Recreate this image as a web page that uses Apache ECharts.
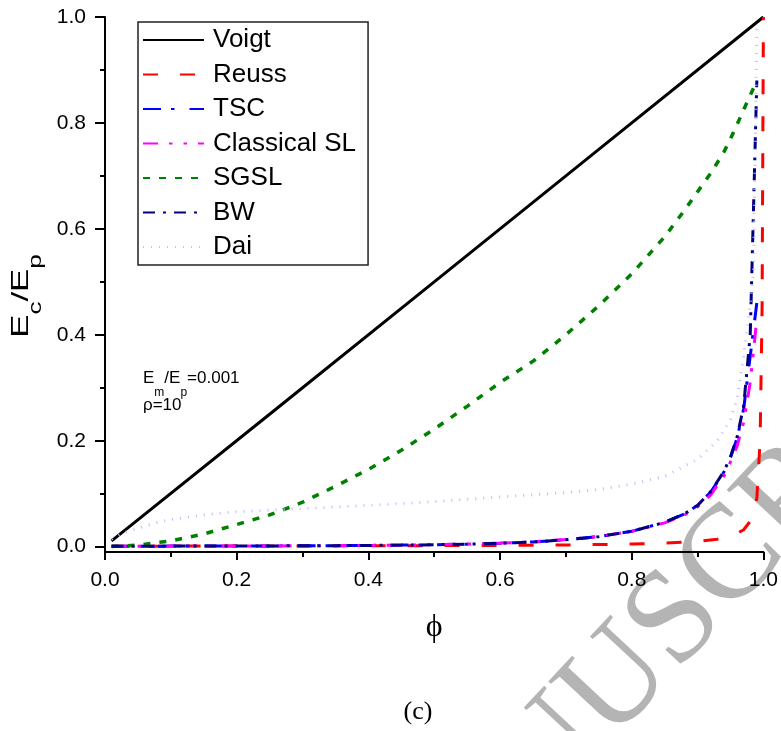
<!DOCTYPE html>
<html>
<head>
<meta charset="utf-8">
<script src="https://cdn.jsdelivr.net/npm/echarts@6/dist/echarts.min.js"></script>
<style>
  html, body { margin: 0; padding: 0; background: #fff; }
  #chart { width: 781px; height: 731px; }
</style>
</head>
<body>
<div id="chart"></div>
<script>
// Composite modulus E_c/E_p versus particle volume fraction phi (E_m/E_p = 0.001, rho = 10)
const seriesNames = ['Voigt', 'Reuss', 'TSC', 'Classical SL', 'SGSL', 'BW', 'Dai'];

const phiVoigt = [0.01, 0.25, 0.5, 0.75, 1.0];
const voigt = [0.011, 0.25, 0.5, 0.75, 1.0];

const phiReuss = [0.01, 0.1, 0.2, 0.3, 0.4, 0.5, 0.6, 0.7, 0.8, 0.85, 0.9, 0.93, 0.95, 0.96, 0.97, 0.98, 0.99, 0.995, 0.998, 1.0];
const reuss = [0.001, 0.0011, 0.0012, 0.0014, 0.0017, 0.002, 0.0025, 0.0033, 0.005, 0.0067, 0.0099, 0.014, 0.0196, 0.025, 0.032, 0.048, 0.091, 0.2, 0.45, 1.0];

const phiGrid = [0.01, 0.05, 0.1, 0.15, 0.2, 0.25, 0.3, 0.35, 0.4, 0.45, 0.5, 0.55, 0.6, 0.65, 0.7, 0.75, 0.8, 0.85, 0.88, 0.9, 0.92, 0.94, 0.95, 0.96, 0.97, 0.98, 0.99];
const tsc = [0.001, 0.001, 0.0011, 0.0012, 0.0013, 0.0015, 0.0017, 0.002, 0.0024, 0.003, 0.0037, 0.0048, 0.0066, 0.009, 0.013, 0.019, 0.029, 0.046, 0.062, 0.078, 0.103, 0.141, 0.168, 0.205, 0.26, 0.36, 0.46];
const classicalSL = [0.001, 0.001, 0.0011, 0.0012, 0.0013, 0.0015, 0.0017, 0.002, 0.0024, 0.003, 0.0037, 0.0049, 0.0068, 0.0093, 0.0135, 0.0195, 0.029, 0.045, 0.06, 0.075, 0.098, 0.133, 0.16, 0.19, 0.235, 0.31, 0.43];
const sgsl = [0.0005, 0.003, 0.011, 0.024, 0.042, 0.06, 0.084, 0.114, 0.146, 0.182, 0.222, 0.265, 0.31, 0.35, 0.4, 0.455, 0.515, 0.585, 0.635, 0.67, 0.705, 0.745, 0.77, 0.797, 0.825, 0.852, 0.88];
const bw = [0.001, 0.001, 0.0011, 0.0012, 0.0013, 0.0015, 0.0017, 0.002, 0.0024, 0.003, 0.0037, 0.0048, 0.0066, 0.009, 0.013, 0.019, 0.029, 0.046, 0.062, 0.078, 0.104, 0.142, 0.17, 0.207, 0.265, 0.40, 0.88];

const phiDai = [0.01, 0.02, 0.03, 0.05, 0.08, 0.1, 0.15, 0.2, 0.3, 0.4, 0.5, 0.6, 0.7, 0.75, 0.8, 0.85, 0.9, 0.93, 0.95, 0.96, 0.97, 0.98, 0.985, 0.99];
const dai = [0.014, 0.021, 0.027, 0.035, 0.046, 0.051, 0.06, 0.066, 0.072, 0.078, 0.085, 0.094, 0.102, 0.108, 0.118, 0.133, 0.165, 0.2, 0.24, 0.28, 0.36, 0.46, 0.52, 0.98];

const xTicks = [0, 0.2, 0.4, 0.6, 0.8, 1.0];
const yMajorTicks = [0, 0.2, 0.4, 0.6, 0.8, 1.0];
const yMinorTicks = [0.1, 0.3, 0.5, 0.7, 0.9];

const pairs = (xs, ys) => xs.map((x, i) => [x, ys[i]]);

const SANS = '"Liberation Sans", Arial, sans-serif';
const SERIF = '"Liberation Serif", "Times New Roman", serif';

function lineSeries(name, xs, ys, color, width, dash) {
  return {
    name: name,
    type: 'line',
    data: pairs(xs, ys),
    symbol: 'none',
    clip: false,
    silent: true,
    smooth: false,
    lineStyle: { color: color, width: width, type: dash, cap: 'butt' },
    itemStyle: { color: color }
  };
}

const chart = echarts.init(document.getElementById('chart'), null, { renderer: 'canvas' });

chart.setOption({
  animation: false,
  backgroundColor: '#ffffff',
  grid: { left: 105, right: 15, top: 17, bottom: 179, containLabel: false },
  legend: {
    data: seriesNames,
    orient: 'vertical',
    left: 138,
    top: 22,
    padding: [5, 12, 5, 4],
    itemWidth: 61,
    itemHeight: 14,
    itemGap: 8.5,
    borderColor: '#222',
    borderWidth: 1.5,
    selectedMode: false,
    itemStyle: { opacity: 0 },
    textStyle: { fontFamily: SANS, fontSize: 26, color: '#000', lineHeight: 26, padding: [0, 0, 0, 4] }
  },
  xAxis: {
    type: 'value',
    min: 0,
    max: 1,
    interval: 0.2,
    name: 'ϕ',
    nameLocation: 'middle',
    nameGap: 76,
    nameTextStyle: { fontFamily: SERIF, fontSize: 32, color: '#000', verticalAlign: 'middle' },
    axisLine: { show: true, onZero: false, lineStyle: { color: '#000', width: 2 } },
    axisTick: { show: true, length: 8, lineStyle: { color: '#000', width: 2 } },
    minorTick: { show: true, splitNumber: 2, length: 5, lineStyle: { color: '#000', width: 2 } },
    splitLine: { show: false },
    minorSplitLine: { show: false },
    axisLabel: {
      customValues: xTicks,
      fontFamily: SANS, fontSize: 21, color: '#000', margin: 18,
      formatter: v => v.toFixed(1)
    }
  },
  yAxis: [
    {
      type: 'value',
      min: -0.01,
      max: 1.0,
      position: 'left',
      axisLine: { show: true, onZero: false, lineStyle: { color: '#000', width: 2 } },
      axisTick: { show: true, customValues: yMajorTicks, length: 10, lineStyle: { color: '#000', width: 2 } },
      splitLine: { show: false },
      axisLabel: {
        customValues: yMajorTicks,
        fontFamily: SANS, fontSize: 21, color: '#000', margin: 19,
        formatter: v => v.toFixed(1)
      }
    },
    {
      type: 'value',
      min: -0.01,
      max: 1.0,
      position: 'left',
      axisLine: { show: false },
      axisTick: { show: true, customValues: yMinorTicks, length: 5, lineStyle: { color: '#000', width: 2 } },
      splitLine: { show: false },
      axisLabel: { show: false }
    }
  ],
  graphic: [
    {
      // manuscript watermark behind the plot
      type: 'text',
      x: 666, y: 632,
      rotation: 47 * Math.PI / 180,
      z: -10,
      silent: true,
      style: {
        text: 'MANUSCRIPT',
        x: 0, y: 0,
        align: 'center', verticalAlign: 'middle',
        fontFamily: SERIF, fontSize: 134,
        fill: '#b4b4b4'
      }
    },
    {
      // vertical axis title E_c/E_p
      type: 'text',
      x: -1.3, y: 296,
      rotation: Math.PI / 2,
      scaleX: 1.45,
      silent: true,
      style: {
        text: '{a|E}{b|c}{a|/E}{b|p}',
        x: 0, y: 0,
        align: 'center', verticalAlign: 'top',
        fill: '#000',
        rich: {
          a: { fontFamily: SANS, fontSize: 24, lineHeight: 46, verticalAlign: 'middle', fill: '#000' },
          b: { fontFamily: SANS, fontSize: 18, lineHeight: 18, verticalAlign: 'bottom', fill: '#000' }
        }
      }
    },
    {
      type: 'text',
      left: 143, top: 370,
      silent: true,
      style: {
        text: '{a|E}{b|m}{a|/E}{b|p}{a|=0.001}',
        fill: '#000',
        rich: {
          a: { fontFamily: SANS, fontSize: 17, lineHeight: 40.8, verticalAlign: 'middle', fill: '#000' },
          b: { fontFamily: SANS, fontSize: 12, lineHeight: 12, verticalAlign: 'bottom', fill: '#000' }
        }
      }
    },
    {
      type: 'text',
      left: 143, top: 397,
      silent: true,
      style: { text: 'ρ=10', fontFamily: SANS, fontSize: 17, fill: '#000' }
    },
    {
      type: 'text',
      x: 418, y: 712,
      silent: true,
      style: {
        text: '(c)', x: 0, y: 0,
        align: 'center', verticalAlign: 'middle',
        fontFamily: SERIF, fontSize: 26, fill: '#000'
      }
    }
  ],
  series: [
    lineSeries('Voigt', phiVoigt, voigt, '#000000', 3, 'solid'),
    lineSeries('Reuss', phiReuss, reuss, '#ff0000', 3, [15, 22]),
    lineSeries('TSC', phiGrid, tsc, '#0000ff', 3, [18, 10, 3.5, 15]),
    lineSeries('Classical SL', phiGrid, classicalSL, '#ff00ff', 3, [15, 11, 3.5, 11, 3.5, 11]),
    lineSeries('SGSL', phiGrid, sgsl, '#008000', 3.5, [7, 9]),
    lineSeries('BW', phiGrid, bw, '#000080', 3, [12, 8, 3, 8]),
    lineSeries('Dai', phiDai, dai, '#c4bbff', 3, [1, 7])
  ]
});
</script>
</body>
</html>
